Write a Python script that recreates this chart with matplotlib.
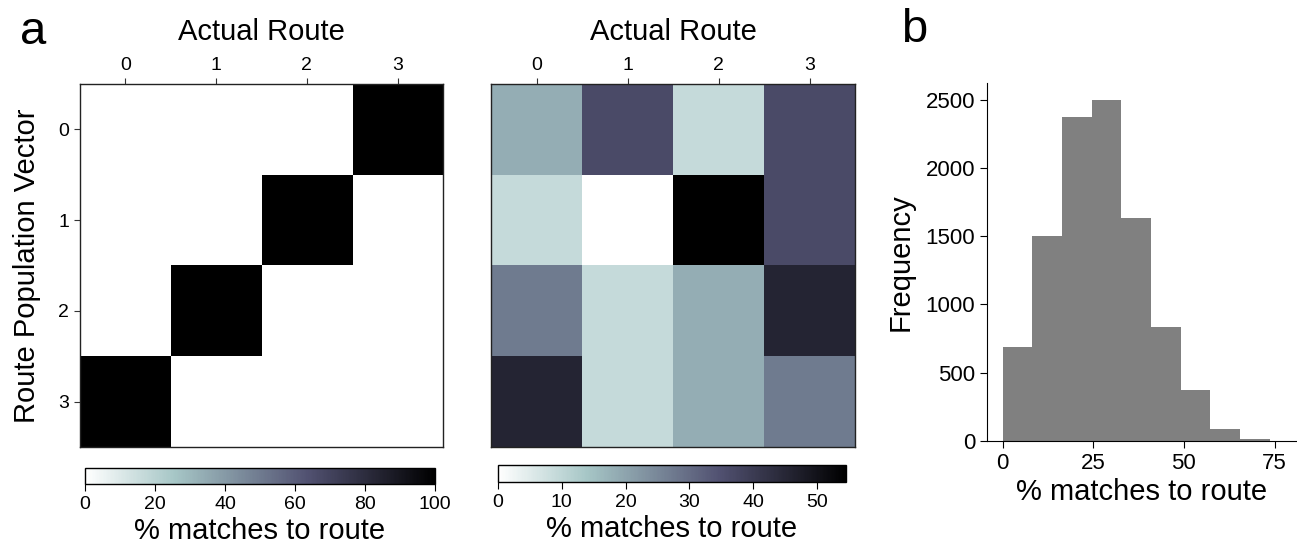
import numpy as np
import matplotlib
matplotlib.use("Agg")
import matplotlib.pyplot as plt

plt.rcParams['font.family'] = ['Liberation Sans', 'DejaVu Sans']

# route labels
routes = [0, 1, 2, 3]

# ideal decoding: every population vector matches its own route
ideal = np.array([
    [0, 0, 0, 100],
    [0, 0, 100, 0],
    [0, 100, 0, 0],
    [100, 0, 0, 0],
])

# shuffled decoding, counts out of 11 per population vector
shuffled_counts = np.array([
    [2, 4, 1, 4],
    [1, 0, 6, 4],
    [3, 1, 2, 5],
    [5, 1, 2, 3],
])
shuffled = shuffled_counts / 11 * 100

# histogram of % matches across shuffles
bin_edges = np.linspace(0, 73.7, 10)
bin_counts = [688, 1501, 2370, 2497, 1633, 832, 371, 85, 17]

W, H = 1297, 544


def rect(x0, y0, x1, y1):
    return [x0 / W, 1 - y1 / H, (x1 - x0) / W, (y1 - y0) / H]


fig = plt.figure(figsize=(W / 100, H / 100), dpi=100)


def heatmap(ax, cax, data, vmax, cticks, ylabel=None):
    im = ax.imshow(data, cmap='bone_r', vmin=0, vmax=vmax, aspect='auto')
    ax.set_xticks(routes)
    ax.set_yticks(routes)
    ax.xaxis.tick_top()
    ax.xaxis.set_label_position('top')
    ax.set_xlabel('Actual Route', fontsize=21, labelpad=12)
    ax.tick_params(labelsize=14, length=4.5, color='#333333')
    ax.tick_params(axis='x', pad=3)
    if ylabel:
        ax.set_ylabel(ylabel, fontsize=21, labelpad=12)
    else:
        ax.set_yticks([])
    for s in ax.spines.values():
        s.set_color('#222222')
        s.set_linewidth(1.0)
    cb = fig.colorbar(im, cax=cax, orientation='horizontal', ticks=cticks)
    cb.ax.tick_params(labelsize=14, length=5)
    cb.set_label('% matches to route', fontsize=21, labelpad=3)
    cb.outline.set_linewidth(1.0)


ax1 = fig.add_axes(rect(80, 84, 443, 447))
cax1 = fig.add_axes(rect(85, 468, 435, 484))
heatmap(ax1, cax1, ideal, 100, [0, 20, 40, 60, 80, 100],
        ylabel='Route Population Vector')

ax2 = fig.add_axes(rect(491, 84, 855, 447))
cax2 = fig.add_axes(rect(498, 465, 846, 482))
heatmap(ax2, cax2, shuffled, 600 / 11, [0, 10, 20, 30, 40, 50])

ax3 = fig.add_axes(rect(987, 83, 1297, 441))
ax3.hist(bin_edges[:-1], bins=bin_edges, weights=bin_counts, color='gray')
ax3.set_xlim(-4.3, 81.2)
ax3.set_ylim(0, 2622)
ax3.set_xticks([0, 25, 50, 75])
ax3.set_yticks([0, 500, 1000, 1500, 2000, 2500])
ax3.spines['top'].set_visible(False)
ax3.spines['right'].set_visible(False)
ax3.tick_params(labelsize=16, length=5)
ax3.set_xlabel('% matches to route', fontsize=21, labelpad=3)
ax3.set_ylabel('Frequency', fontsize=21, labelpad=8)

fig.text(20 / W, 1 - 10 / H, 'a', fontsize=34, va='top', ha='left')
fig.text(901 / W, 1 - 8 / H, 'b', fontsize=34, va='top', ha='left')

fig.savefig('out.png', dpi=100)
